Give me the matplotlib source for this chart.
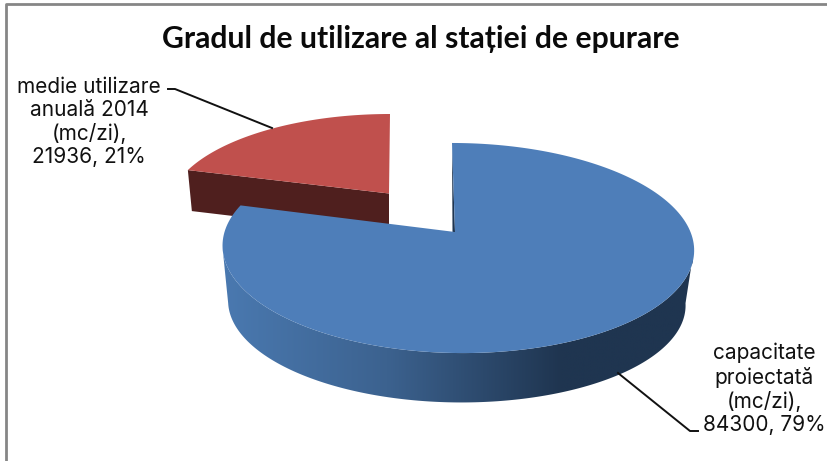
"""3D-look pie: gradul de utilizare al statiei de epurare."""
import numpy as np
import matplotlib
matplotlib.use("Agg")
import matplotlib.pyplot as plt
from matplotlib.patches import Polygon
from matplotlib.colors import LinearSegmentedColormap

title = "Gradul de utilizare al stației de epurare"
values = [84300, 21936]
percents = [79, 21]
names = ["capacitate\nproiectată\n(mc/zi),", "medie utilizare\nanuală 2014\n(mc/zi),"]

BLUE, RED, RED_DARK = "#4e7eb9", "#c0504d", "#4f1f1e"
K = 0.1525  # perspective of the pie disc

fig = plt.figure(figsize=(8.27, 4.61), dpi=100)
ax = fig.add_axes([0, 0, 1, 1])


def rim(a0, a1, x0, y0, bx, by, skew=0.0, n=200):
    # angles in degrees clockwise from 12 o'clock
    t = np.radians(np.linspace(a0, a1, n))
    u, v = np.sin(t), np.cos(t)
    d = 1 + K * v
    return np.column_stack([x0 + bx * u / d - skew * v, y0 - by * v / d])


frac = np.array(values) / sum(values)
split = 360 * frac[0]

# red slice (pulled out), side first
red_top = rim(split, 360, 388, 194, 217, 92.2, skew=-2)
red_apex = np.array([389, 193.5])
left_end = red_top[0]
ax.add_patch(Polygon([left_end, left_end + [4, 41], red_apex + [0, 41], red_apex],
                     fc=RED_DARK, ec="none", zorder=2))
ax.add_patch(Polygon(np.vstack([red_apex, red_top]), fc=RED, ec="none", zorder=3))

# blue side, gradient clipped to the band between both rims
# 98.8 / 261.2 deg are the widest points of the rim with this perspective
top_front = rim(98.8, 261.2, 457.5, 232, 233, 102.6, skew=5.5)
bot_front = rim(98.8, 261.2, 456, 288, 226, 97, skew=5.5)
side = Polygon(np.vstack([top_front, bot_front[::-1]]), transform=ax.transData)
cmap = LinearSegmentedColormap.from_list(
    "side", [(0, "#4a79b0"), (0.35, "#3c628f"), (0.72, "#1f3550"), (1, "#1f3550")])
im = ax.imshow(np.linspace(0, 1, 256)[None, :], cmap=cmap, aspect="auto",
               extent=[222, 693, 420, 230], zorder=4)
im.set_clip_path(side)

# blue top face
blue_apex = np.array([455, 232])
blue_top = rim(0, split, 457.5, 232, 233, 102.6, skew=5.5)
ax.add_patch(Polygon([blue_top[0], blue_apex, blue_apex - [2.5, 0]],
                     fc="#1f3550", ec="none", zorder=4))
ax.add_patch(Polygon(np.vstack([blue_apex, blue_top]), fc=BLUE, ec="none", zorder=5))

# leader lines
ax.plot([168, 175, 272], [89, 89, 128], color="#111111", lw=1.4, zorder=6)
ax.plot([618, 690, 698], [373, 431, 431], color="#111111", lw=1.4, zorder=6)

# labels
ax.text(89, 122, f"{names[1]}\n{values[1]}, {percents[1]}%", ha="center", va="center",
        fontsize=15, family="Inter", linespacing=1.2, color="#111111", zorder=7)
ax.text(764, 389, f"{names[0]}\n{values[0]}, {percents[0]}%", ha="center", va="center",
        fontsize=15, family="Inter", linespacing=1.2, color="#111111", zorder=7)
ax.text(421, 39, title, ha="center", va="center", fontsize=21.7, fontweight="bold",
        family="Lato", color="#0a0a0a", zorder=7)

# chart frame: only top and left show in the crop
ax.plot([6, 6, 827], [461, 4, 4], color="#868686", lw=2, zorder=1)

ax.set_xlim(0, 827)
ax.set_ylim(461, 0)
ax.axis("off")
fig.savefig("out.png", dpi=100)
